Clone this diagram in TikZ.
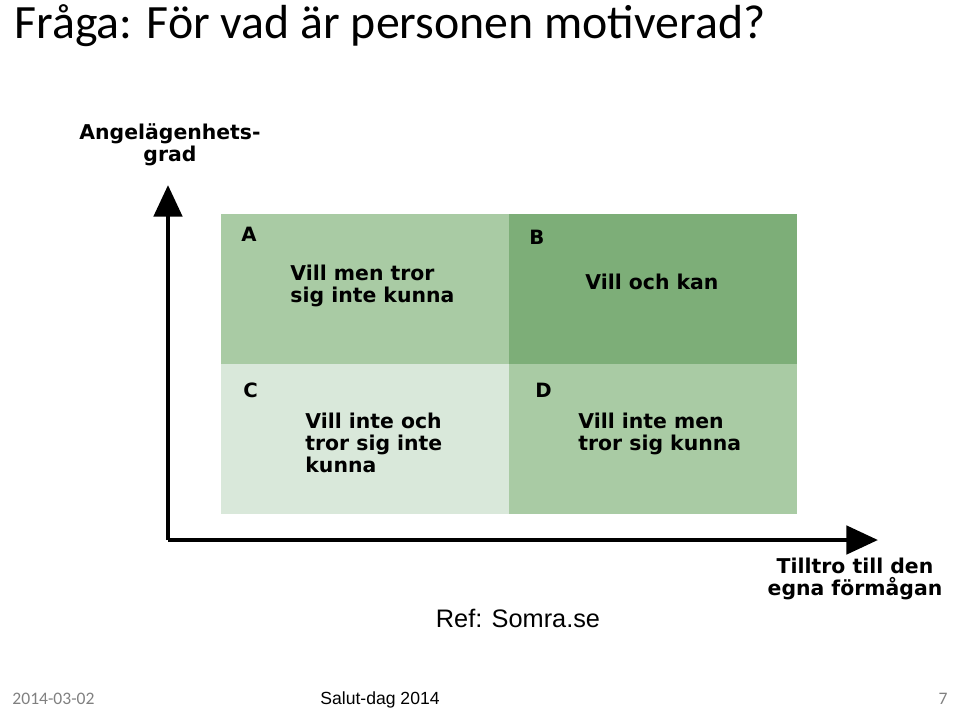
\documentclass[tikz,border=0pt]{standalone}
\usepackage{fontspec}
\setmainfont{Carlito}
\newfontfamily\boxfont{DejaVu Sans}
\newfontfamily\arialfont{Liberation Sans}
\usetikzlibrary{arrows.meta}
\definecolor{midgreen}{HTML}{A9CBA4}
\definecolor{darkgreen}{HTML}{7DAE78}
\definecolor{lightgreen}{HTML}{D9E8DA}
\tikzset{
    quad/.style={draw=none, minimum width=2.88cm, minimum height=1.5cm, inner sep=0pt},
    letter/.style={font=\boxfont\bfseries\fontsize{5.6}{6}\selectfont, anchor=north west},
    quadtext/.style={font=\boxfont\bfseries\fontsize{5.8}{6.2}\selectfont, align=left, anchor=west},
    axis/.style={line width=1.3pt, -{Triangle[length=9pt,width=8pt]}}
}
\begin{document}
\begin{tikzpicture}[x=0.01cm,y=-0.01cm]
    \useasboundingbox (0,0) rectangle (960,711);
    % title
    \node[anchor=west, font=\fontsize{13.6}{15}\selectfont] (title) at (2,26) {Fråga: För vad är personen motiverad?};
    % quadrants
    \node[quad, fill=midgreen, anchor=north west]   (qa) at (220,213) {};
    \node[quad, fill=darkgreen, anchor=north west]  (qb) at (508,213) {};
    \node[quad, fill=lightgreen, anchor=north west] (qc) at (220,363) {};
    \node[quad, fill=midgreen, anchor=north west]   (qd) at (508,363) {};
    \node[letter] (la) at (229,215) {A};
    \node[letter] (lb) at (517,218) {B};
    \node[letter] (lc) at (231,370) {C};
    \node[letter] (ld) at (523,371) {D};
    \node[quadtext] (ta) at (278,286) {Vill men tror\\sig inte kunna};
    \node[quadtext] (tb) at (573,282) {Vill och kan};
    \node[quadtext] (tc) at (293,443) {Vill inte och\\tror sig inte\\kunna};
    \node[quadtext] (td) at (566,434) {Vill inte men\\tror sig kunna};
    % axes
    \coordinate (origin) at (168,540);
    \coordinate (ytip) at (168,185);
    \coordinate (xtip) at (878,540);
    \draw[axis] (origin) -- (ytip);
    \draw[axis] (origin) -- (xtip);
    \node[quadtext, align=center, anchor=center] (ylab) at (170,145) {Angelägenhets-\\grad};
    \node[quadtext, align=center, anchor=center] (xlab) at (855,579) {Tilltro till den\\egna förmågan};
    % reference and footer
    \node[font=\arialfont\fontsize{7.2}{8}\selectfont] (ref) at (518,618) {Ref: Somra.se};
    \node[anchor=west, font=\fontsize{5}{6}\selectfont, text=gray] (date) at (0,699) {2014-03-02};
    \node[font=\arialfont\fontsize{5}{6}\selectfont] (event) at (380,700) {Salut-dag 2014};
    \node[anchor=east, font=\fontsize{5}{6}\selectfont, text=gray] (page) at (960,699) {7};
\end{tikzpicture}
\end{document}
